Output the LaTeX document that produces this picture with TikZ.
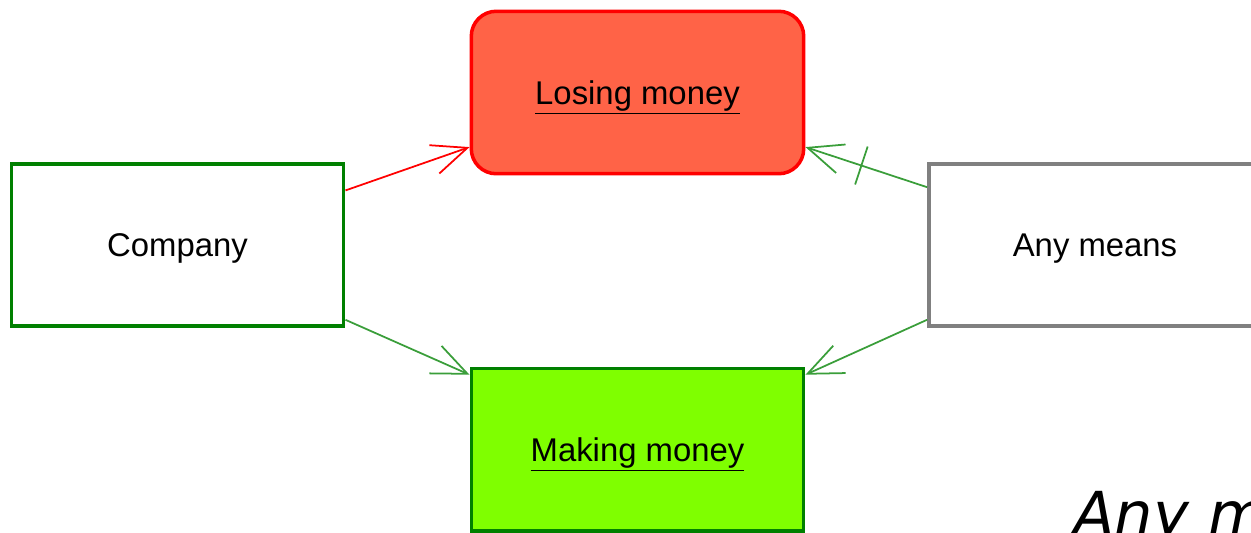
\documentclass[tikz,border=0pt]{standalone}
\usepackage{fontspec}
\setmainfont{Liberation Sans}
\newfontfamily\bigfont{DejaVu Sans}
\usetikzlibrary{arrows.meta}
\definecolor{losered}{HTML}{FF6347}
\definecolor{makegreen}{HTML}{7FFF00}
\definecolor{boxgreen}{HTML}{008000}
\definecolor{linkgreen}{HTML}{3A9E3A}
\tikzset{
  box/.style={draw, line width=2pt, minimum width=6.65cm, minimum height=3.25cm, text depth=0pt, font=\fontsize{18.7}{22}\selectfont},
  link/.style={line width=1pt, -{Straight Barb[length=0.7cm,width=0.6cm]}},
  cutmark/.style={sloped, draw=linkgreen, line width=1pt, inner sep=0pt, minimum height=0.8cm, minimum width=0pt}
}
\begin{document}
\begin{tikzpicture}[x=0.02cm,y=-0.02cm]
\useasboundingbox (0,0) rectangle (1251,532);
\clip (0,0) rectangle (1251,532);
\node[box, draw=boxgreen] (company) at (177.5,245) {Company};
\node[box, draw=red, fill=losered, rounded corners=0.5cm] (losing) at (637.5,92.5) {\underline{Losing money}};
\node[box, draw=gray] (anymeans) at (1095,245) {Any means};
\node[box, draw=boxgreen, fill=makegreen] (making) at (637.5,449.5) {\underline{Making money}};
\draw[link, draw=red] (company.18) -- (losing.198);
\draw[link, draw=linkgreen] (company.-24) -- (making.156);
\draw[link, draw=linkgreen] (anymeans.161) -- node[cutmark, pos=.54] {} (losing.-18);
\draw[link, draw=linkgreen] (anymeans.204) -- (making.24);
\node[anchor=base west, font=\bigfont\itshape\fontsize{34.5}{40}\selectfont] (note) at (1067,535) {Any means};
\end{tikzpicture}
\end{document}
